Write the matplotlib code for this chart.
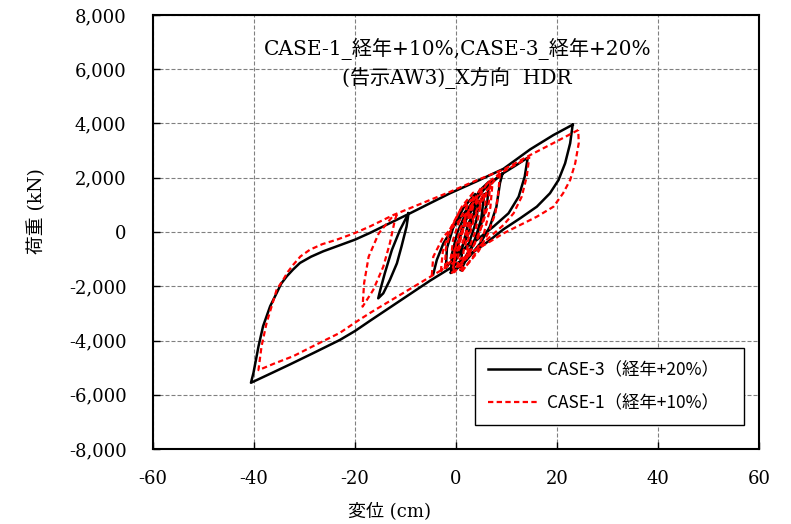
import matplotlib
matplotlib.use('Agg')
import matplotlib.pyplot as plt

plt.rcParams['font.family'] = ['DejaVu Serif', 'Noto Sans CJK JP']

# ---- data (displacement cm, load kN) ----
# CASE-3 (black, solid)
c3_outer_x = [23.1, 19.3, 14.7, 9.4, 4.0, -1.2, -5.0, -9.1, -13.0, -17.0, -20.0, -23.0, -26.3,
              -28.7, -30.9, -32.3, -33.5, -34.6, -35.5, -36.8, -38.2, -39.1, -40.1, -40.6,
              -36.5, -32.9, -28.0, -23.0, -20.0, -17.0, -9.0, -5.1, -1.2, 3.0, 6.5, 9.4,
              12.7, 16.0, 18.6, 20.3, 21.6, 22.6, 23.1]
c3_outer_y = [3955, 3575, 3048, 2330, 1860, 1426, 1073, 690, 335, -30, -282, -487, -712,
              -910, -1141, -1390, -1632, -1900, -2245, -2736, -3472, -4208, -5190, -5558,
              -5200, -4883, -4440, -3980, -3650, -3270, -2275, -1790, -1340, -800, -330, 100,
              505, 933, 1427, 1917, 2532, 3270, 3955]
c3_loop1_x = [-9.4, -9.8, -10.8, -11.7, -13.1, -14.4, -15.4, -15.0, -14.1, -12.7, -11.1, -9.4]
c3_loop1_y = [690, 196, -541, -1154, -1769, -2260, -2444, -2138, -1523, -663, 74, 690]
c3_loop2_x = [-4.5, -3.8, -2.5, -0.5, 2.1, 5.4, 9.2, 11.8, 14.2, 13.6, 12.4, 10.4, 7.4, 4.1, 0.3, -0.8]
c3_loop2_y = [-1550, -1030, -420, 200, 810, 1550, 2150, 2450, 2740, 2040, 1300, 690, 196, -295, -800, -1400]
c3_loop3_x = [9.2, 8.7, 8.0, 6.7, 4.8, 2.1, -0.5, -0.2, 1.0, 3.0, 6.0, 9.2]
c3_loop3_y = [2150, 1800, 930, 196, -417, -1032, -1462, -800, 0, 900, 1700, 2150]
c3_loop4_x = [-1.0, -0.8, 0.3, 2.2, 4.8, 6.5, 6.2, 5.0, 3.2, 1.0, -1.0]
c3_loop4_y = [-1500, -800, 0, 800, 1550, 1850, 1100, 300, -500, -1200, -1500]
c3_loop5_x = [-2.0, -1.8, -0.5, 1.5, 3.8, 3.6, 2.4, 0.5, -2.0]
c3_loop5_y = [-1300, -600, 200, 900, 1400, 700, -100, -800, -1300]
c3_loop6_x = [1.0, 1.2, 2.4, 5.6, 5.0, 3.6, 1.0]
c3_loop6_y = [-1400, -600, 300, 1400, 500, -400, -1400]
c3_loop7_x = [0.0, 0.6, 2.0, 4.5, 4.0, 2.6, 0.0]
c3_loop7_y = [-1000, -300, 500, 1150, 400, -400, -1000]

# CASE-1 (red, dashed)
c1_outer_x = [24.2, 19.3, 14.7, 9.4, 4.0, -1.2, -6.0, -12.4, -17.0, -20.0, -23.6, -26.5, -28.9,
              -30.8, -32.2, -33.3, -34.2, -35.5, -36.5, -37.5, -38.5, -39.1, -39.1, -36.0,
              -32.2, -28.0, -23.0, -20.0, -17.0, -9.0, -1.2, 3.0, 6.7, 9.4, 12.7, 16.0,
              19.3, 21.2, 22.6, 23.6, 24.3, 24.2]
c1_outer_y = [3760, 3280, 2838, 2300, 1900, 1480, 1115, 627, 208, -37, -282, -450, -650,
              -900, -1202, -1470, -1754, -2122, -2736, -3350, -4208, -5067, -5092, -4850,
              -4576, -4180, -3718, -3340, -2981, -2087, -1216, -760, -357, -49, 258, 564,
              933, 1427, 1917, 2532, 3270, 3760]
c1_loop1_x = [-11.7, -12.1, -13.1, -14.4, -16.4, -18.5, -18.2, -17.3, -15.3, -12.6, -11.7]
c1_loop1_y = [650, 442, -417, -1279, -2138, -2753, -1890, -910, -49, 564, 650]
c1_loop2_x = [-4.8, -4.5, -2.5, 0.1, 4.1, 8.7, 11.5, 14.5, 14.0, 13.0, 11.4, 9.4, 6.0, 3.0, 0.0]
c1_loop2_y = [-1600, -910, -172, 319, 1058, 2163, 2450, 2753, 2038, 1301, 690, 258, -300, -800, -1300]
c1_loop3_x = [8.7, 8.4, 7.8, 6.5, 4.5, 1.8, -0.8, 0.0, 1.5, 3.5, 6.2, 8.7]
c1_loop3_y = [2163, 1500, 700, 0, -700, -1300, -1500, -800, 100, 1000, 1800, 2163]
c1_loop4_x = [-0.5, -0.3, 0.8, 2.8, 5.2, 6.8, 6.5, 5.3, 3.5, 1.2, -0.5]
c1_loop4_y = [-1500, -700, 100, 900, 1600, 1900, 1100, 300, -500, -1200, -1500]
c1_loop5_x = [-2.2, -2.0, -0.8, 1.2, 3.4, 3.2, 2.0, 0.2, -2.2]
c1_loop5_y = [-1350, -600, 200, 950, 1450, 700, -100, -800, -1350]
c1_loop6_x = [1.2, 1.5, 2.8, 4.5, 7.2, 6.8, 5.6, 3.8, 1.2]
c1_loop6_y = [-1450, -700, 200, 1000, 1750, 900, 0, -800, -1450]
c1_loop7_x = [-1.0, -0.6, 0.8, 3.0, 2.6, 1.4, -1.0]
c1_loop7_y = [-1000, -300, 500, 1200, 400, -400, -1000]
c1_loop8_x = [2.0, 2.4, 3.6, 6.0, 5.6, 4.4, 2.0]
c1_loop8_y = [-1000, -300, 500, 1450, 600, -200, -1000]
c1_loop9_x = [-3.0, -2.6, -1.2, 0.8, 2.2, 1.8, 0.4, -1.2, -3.0]
c1_loop9_y = [-1450, -700, 100, 800, 1100, 400, -400, -1000, -1450]
c1_loop10_x = [0.3, 0.6, 1.8, 3.6, 5.0, 4.8, 3.8, 2.2, 0.3]
c1_loop10_y = [-1300, -500, 400, 1200, 1650, 900, 0, -800, -1300]

x_ticks = [-60, -40, -20, 0, 20, 40, 60]
y_ticks = [-8000, -6000, -4000, -2000, 0, 2000, 4000, 6000, 8000]

label_c3 = 'CASE-3（経年+20%）'
label_c1 = 'CASE-1（経年+10%）'

# ---- figure ----
fig = plt.figure(figsize=(7.91, 5.24), dpi=100)
ax = fig.add_axes([0.1934, 0.1431, 0.7662, 0.8283])

black_kw = dict(color='black', lw=1.8, solid_joinstyle='round')
red_kw = dict(color='red', lw=1.6, linestyle=(0, (2.4, 1.5)))

c3_loops = [(c3_loop1_x, c3_loop1_y), (c3_loop2_x, c3_loop2_y), (c3_loop3_x, c3_loop3_y),
            (c3_loop4_x, c3_loop4_y), (c3_loop5_x, c3_loop5_y), (c3_loop6_x, c3_loop6_y),
            (c3_loop7_x, c3_loop7_y)]
c1_loops = [(c1_loop1_x, c1_loop1_y), (c1_loop2_x, c1_loop2_y), (c1_loop3_x, c1_loop3_y),
            (c1_loop4_x, c1_loop4_y), (c1_loop5_x, c1_loop5_y), (c1_loop6_x, c1_loop6_y),
            (c1_loop7_x, c1_loop7_y), (c1_loop8_x, c1_loop8_y), (c1_loop9_x, c1_loop9_y),
            (c1_loop10_x, c1_loop10_y)]

ax.plot(c3_outer_x, c3_outer_y, label=label_c3, **black_kw)
for lx, ly in c3_loops:
    ax.plot(lx, ly, **black_kw)
ax.plot(c1_outer_x, c1_outer_y, label=label_c1, **red_kw)
for lx, ly in c1_loops:
    ax.plot(lx, ly, **red_kw)

ax.set_xlim(-60, 60)
ax.set_ylim(-8000, 8000)
ax.set_xticks(x_ticks)
ax.set_yticks(y_ticks)
ax.set_xticklabels([str(v) for v in x_ticks])
ax.set_yticklabels(['{:,}'.format(v) for v in y_ticks])
ax.tick_params(axis='both', direction='in', length=5, width=1, labelsize=13)
ax.tick_params(axis='y', pad=19)
ax.tick_params(axis='x', pad=15)
ax.grid(True, color='#808080', lw=0.8, linestyle=(0, (3.6, 1.8)))
ax.set_axisbelow(True)
for s in ax.spines.values():
    s.set_linewidth(1.5)

# title inside the plot
fig.text(458 / 791, 1 - 49 / 524, 'CASE-1_経年+10%,CASE-3_経年+20%',
         ha='center', va='center', fontsize=14.5)
fig.text(457 / 791, 1 - 78 / 524, '(告示AW3)_X方向  HDR',
         ha='center', va='center', fontsize=14.5)

# axis labels
fig.text(37 / 791, 1 - 211 / 524, '荷重 (kN)', rotation=90, ha='center', va='center', fontsize=13.5)
fig.text(390 / 791, 1 - 512 / 524, '変位 (cm)', ha='center', va='center', fontsize=13)

leg = ax.legend(loc='lower left', bbox_to_anchor=(0.531, 0.0553, 0.444, 0.175), mode='expand',
                prop={'family': ['Noto Sans CJK JP'], 'size': 12.5}, handlelength=3.0,
                handletextpad=0.4, borderpad=0.75, labelspacing=0.85, borderaxespad=0,
                fancybox=False, framealpha=1)
leg.get_frame().set_edgecolor('black')
leg.get_frame().set_linewidth(1.0)

fig.savefig('out.png', dpi=100)
